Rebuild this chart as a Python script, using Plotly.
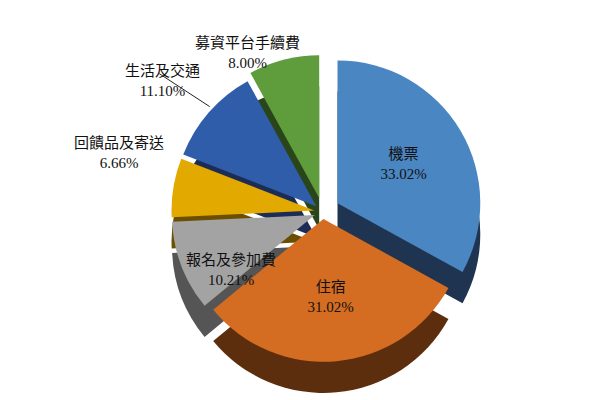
import plotly.graph_objects as go

# expense breakdown (share in %)
labels = ["機票", "住宿", "報名及參加費", "回饋品及寄送", "生活及交通", "募資平台手續費"]
shares = [33.02, 31.02, 10.21, 6.66, 11.10, 8.00]

top_colors = ["#4a86c1", "#d46c22", "#a3a3a3", "#e2a900", "#2f5da9", "#5f9c3c"]
side_colors = ["#1f3450", "#5c2e0d", "#555555", "#6b4f00", "#1b2d56", "#2a451a"]
pulls = [0.12, 0.05, 0.06, 0.06, 0.06, 0.1]
inside = [True, True, False, False, False, False]

FONT = "Liberation Serif, Noto Sans CJK TC, serif"
FS = 15

slice_text = [f"{l}<br>{v:.2f}%" if ins else "" for l, v, ins in zip(labels, shares, inside)]

fig = go.Figure()

# darker copy underneath, shifted down, to suggest the pie's thickness
fig.add_trace(go.Pie(
    labels=labels, values=shares, sort=False, direction="clockwise", rotation=0,
    pull=pulls, marker=dict(colors=side_colors, line=dict(width=0)),
    textinfo="none", hoverinfo="skip", showlegend=False,
    domain=dict(x=[0.05, 1.0], y=[0.0, 0.82]),
))

fig.add_trace(go.Pie(
    labels=labels, values=shares, sort=False, direction="clockwise", rotation=0,
    pull=pulls, marker=dict(colors=top_colors, line=dict(color="white", width=0)),
    text=slice_text, textinfo="text", textposition="inside",
    insidetextorientation="horizontal",
    textfont=dict(family=FONT, size=FS, color="#111111"),
    showlegend=False,
    domain=dict(x=[0.05, 1.0], y=[0.08, 0.90]),
))

# labels placed by hand (pixel positions) for the narrow slices
label_pos = {5: (238, 20), 4: (112, 48), 3: (60, 122), 2: (222, 264)}
for i, (px_, py_) in label_pos.items():
    fig.add_annotation(
        x=px_ / 600, y=1 - py_ / 400, xref="paper", yref="paper",
        text=f"{labels[i]}<br>{shares[i]:.2f}%", showarrow=False,
        font=dict(family=FONT, size=FS, color="#111111"),
    )

# leader line for 生活及交通
fig.add_annotation(
    x=200 / 600, y=1 - 96 / 400, xref="paper", yref="paper",
    ax=-52, ay=-34, text="", showarrow=True,
    arrowhead=0, arrowwidth=1, arrowcolor="#222222",
)

fig.update_layout(
    width=600, height=400,
    margin=dict(l=5, r=5, t=5, b=5),
    paper_bgcolor="white", plot_bgcolor="white",
    font=dict(family=FONT, size=FS, color="#111111"),
)

fig.write_html("out.html")
